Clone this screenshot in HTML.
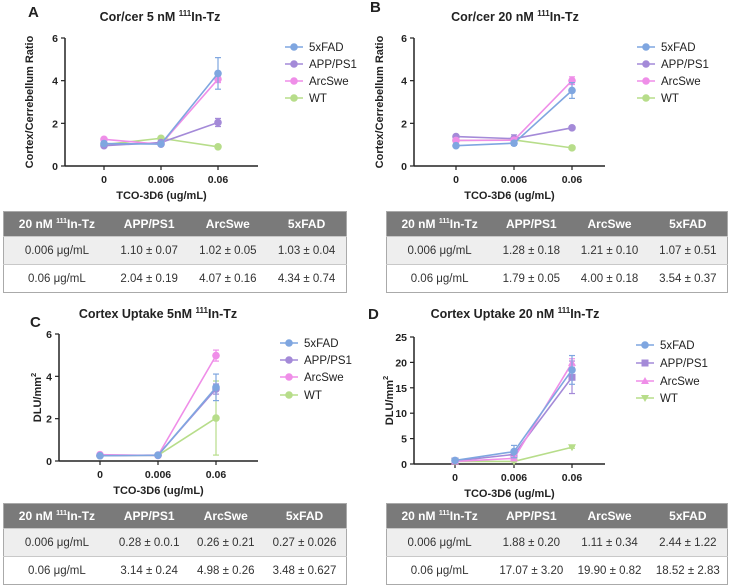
<!DOCTYPE html>
<html><head><meta charset="utf-8">
<style>
body{margin:0;width:730px;height:584px;background:#fff;overflow:hidden;position:relative;font-family:"Liberation Sans",sans-serif}
svg{position:absolute;left:0;top:0}
table{position:absolute;border-collapse:collapse;font-family:"Liberation Sans",sans-serif;font-size:11.5px;color:#333;border:1.5px solid #aaa}
table th{background:#7a7a7a;color:#fff;font-weight:bold;font-size:12px;height:24px;padding:0;text-align:center}
table td{text-align:center;padding:0;height:27px;border-top:1.5px solid #c8c8c8}
table tr.r1 td{background:#eeeeee}
</style></head><body>
<svg id="chart" width="730" height="584"></svg>

<table style="left:3px;top:211px;width:344px">
<tr><th style="width:31%">20 nM <sup style="font-size:7px">111</sup>In-Tz</th><th>APP/PS1</th><th>ArcSwe</th><th>5xFAD</th></tr>
<tr class="r1"><td>0.006 μg/mL</td><td>1.10 ± 0.07</td><td>1.02 ± 0.05</td><td>1.03 ± 0.04</td></tr>
<tr><td>0.06 μg/mL</td><td>2.04 ± 0.19</td><td>4.07 ± 0.16</td><td>4.34 ± 0.74</td></tr>
</table>
<table style="left:386px;top:211px;width:342px">
<tr><th style="width:31%">20 nM <sup style="font-size:7px">111</sup>In-Tz</th><th>APP/PS1</th><th>ArcSwe</th><th>5xFAD</th></tr>
<tr class="r1"><td>0.006 μg/mL</td><td>1.28 ± 0.18</td><td>1.21 ± 0.10</td><td>1.07 ± 0.51</td></tr>
<tr><td>0.06 μg/mL</td><td>1.79 ± 0.05</td><td>4.00 ± 0.18</td><td>3.54 ± 0.37</td></tr>
</table>
<table style="left:3px;top:503px;width:344px">
<tr><th style="width:31%">20 nM <sup style="font-size:7px">111</sup>In-Tz</th><th>APP/PS1</th><th>ArcSwe</th><th>5xFAD</th></tr>
<tr class="r1"><td>0.006 μg/mL</td><td>0.28 ± 0.0.1</td><td>0.26 ± 0.21</td><td>0.27 ± 0.026</td></tr>
<tr><td>0.06 μg/mL</td><td>3.14 ± 0.24</td><td>4.98 ± 0.26</td><td>3.48 ± 0.627</td></tr>
</table>
<table style="left:386px;top:503px;width:342px">
<tr><th style="width:31%">20 nM <sup style="font-size:7px">111</sup>In-Tz</th><th>APP/PS1</th><th>ArcSwe</th><th>5xFAD</th></tr>
<tr class="r1"><td>0.006 μg/mL</td><td>1.88 ± 0.20</td><td>1.11 ± 0.34</td><td>2.44 ± 1.22</td></tr>
<tr><td>0.06 μg/mL</td><td>17.07 ± 3.20</td><td>19.90 ± 0.82</td><td>18.52 ± 2.83</td></tr>
</table>

<script>
const categories = ["0", "0.006", "0.06"];
const seriesNames = ["5xFAD", "APP/PS1", "ArcSwe", "WT"];
const seriesColors = ["#7fa6e0", "#a48ad8", "#ef8ee8", "#b7dd8a"];
// Panel A
const aFAD = [1.05, 1.03, 4.34], aFADerr = [0.1, 0.05, 0.74];
const aAPP = [0.95, 1.10, 2.04], aAPPerr = [0.05, 0.07, 0.19];
const aARC = [1.25, 1.02, 4.07], aARCerr = [0.05, 0.05, 0.16];
const aWT  = [1.00, 1.30, 0.90], aWTerr  = [0.05, 0.05, 0.05];
// Panel B
const bFAD = [0.95, 1.07, 3.54], bFADerr = [0.05, 0.1, 0.37];
const bAPP = [1.38, 1.28, 1.79], bAPPerr = [0.05, 0.18, 0.05];
const bARC = [1.20, 1.21, 4.00], bARCerr = [0.05, 0.10, 0.18];
const bWT  = [1.20, 1.22, 0.85], bWTerr  = [0.05, 0.05, 0.05];
// Panel C
const cFAD = [0.25, 0.27, 3.48], cFADerr = [0.03, 0.03, 0.627];
const cAPP = [0.25, 0.28, 3.40], cAPPerr = [0.03, 0.03, 0.24];
const cARC = [0.30, 0.26, 4.98], cARCerr = [0.03, 0.03, 0.26];
const cWT  = [0.25, 0.27, 2.03], cWTerr  = [0.03, 0.03, 1.75];
// Panel D
const dFAD = [0.7, 2.44, 18.52], dFADerr = [0.2, 1.22, 2.83];
const dAPP = [0.6, 1.88, 17.07], dAPPerr = [0.2, 0.20, 3.20];
const dARC = [0.5, 1.11, 19.90], dARCerr = [0.2, 0.34, 0.82];
const dWT  = [0.5, 0.50, 3.30], dWTerr  = [0.1, 0.1, 0.2];
const ticksRatio = [0, 2, 4, 6];
const ticksD = [0, 5, 10, 15, 20, 25];

const svg = document.getElementById('chart');
const NS = 'http://www.w3.org/2000/svg';
function mk(tag, attrs, parent) {
  const e = document.createElementNS(NS, tag);
  for (const k in attrs) e.setAttribute(k, attrs[k]);
  (parent || svg).appendChild(e);
  return e;
}
function txt(x, y, s, size, anchor, parent, weight) {
  const t = mk('text', {x: x, y: y, 'font-size': size, 'text-anchor': anchor || 'middle', 'font-weight': weight || 'bold', fill: '#222', 'font-family': 'Liberation Sans, sans-serif'}, parent);
  t.textContent = s;
  return t;
}
function panel(p) {
  const g = mk('g', {});
  
  
  const ymax = p.ticks[p.ticks.length - 1];
  const ys = v => p.y0 - (v / ymax) * (p.y0 - p.yTop);
  const xs = i => p.cx[i];
  const L = txt(p.letterX, p.letterY, p.id.toUpperCase(), 15, 'start', g);
  
  
  const T = txt(p.titleX, p.titleY, '', 12.5, 'middle', g);
  
  
  T.textContent = p.title + ' ';
  const sup = mk('tspan', {'font-size': 8, dy: -5}, T); sup.textContent = '111';
  const rest = mk('tspan', {dy: 5}, T); rest.textContent = 'In-Tz';
  mk('line', {x1: p.ax, y1: p.yTop, x2: p.ax, y2: p.y0, stroke: '#222', 'stroke-width': 1.5}, g);
  mk('line', {x1: p.ax, y1: p.y0, x2: p.axEnd, y2: p.y0, stroke: '#222', 'stroke-width': 1.5}, g);
  p.ticks.forEach(t => {
    mk('line', {x1: p.ax - 4, y1: ys(t), x2: p.ax, y2: ys(t), stroke: '#222', 'stroke-width': 1.2}, g);
    const tl = txt(p.ax - 7, ys(t) + 4, String(t), 10.5, 'end', g);
    
    
  });
  categories.forEach((c, i) => {
    mk('line', {x1: xs(i), y1: p.y0, x2: xs(i), y2: p.y0 + 4, stroke: '#222', 'stroke-width': 1.2}, g);
    const tl = txt(xs(i), p.y0 + 17, c, 10.5, 'middle', g);
    
    
  });
  const xt = txt((p.ax + p.axEnd) / 2, p.y0 + 33, 'TCO-3D6 (ug/mL)', 11, 'middle', g);
  
  
  const ymid = (p.y0 + p.yTop) / 2;
  const yt = txt(0, 0, '', 11, 'middle', g);
  yt.setAttribute('transform', 'translate(' + p.ylabX + ',' + ymid + ') rotate(-90)');
  
  
  yt.textContent = p.ylabel;
  if (p.ysup) { const s = mk('tspan', {'font-size': 7.5, dy: -5}, yt); s.textContent = '2'; }
  const order = [3, 1, 2, 0];
  order.forEach(si => {
    const vals = p.series[si], errs = p.errs[si], col = seriesColors[si];
    const sg = mk('g', {}, g);
    
    
    mk('polyline', {points: vals.map((v, i) => xs(i) + ',' + ys(v)).join(' '), fill: 'none', stroke: col, 'stroke-width': 1.6}, sg);
    vals.forEach((v, i) => {
      const e = errs[i];
      mk('line', {x1: xs(i), y1: ys(v - e), x2: xs(i), y2: ys(v + e), stroke: col, 'stroke-width': 1.2}, sg);
      mk('line', {x1: xs(i) - 3, y1: ys(v + e), x2: xs(i) + 3, y2: ys(v + e), stroke: col, 'stroke-width': 1.2}, sg);
      mk('line', {x1: xs(i) - 3, y1: ys(v - e), x2: xs(i) + 3, y2: ys(v - e), stroke: col, 'stroke-width': 1.2}, sg);
      marker(p.markers ? p.markers[si] : 'c', xs(i), ys(v), col, sg);
    });
  });
  seriesNames.forEach((n, si) => {
    const lg = mk('g', {}, g);
    
    
    const y = p.legY[si];
    mk('line', {x1: p.legX, y1: y, x2: p.legX + 18, y2: y, stroke: seriesColors[si], 'stroke-width': 1.6}, lg);
    marker(p.markers ? p.markers[si] : 'c', p.legX + 9, y, seriesColors[si], lg);
    txt(p.legX + 24, y + 4, n, 11.5, 'start', lg, 'normal');
  });
}
function marker(type, x, y, col, parent) {
  if (type === 's') mk('rect', {x: x - 3.5, y: y - 3.5, width: 7, height: 7, fill: col}, parent);
  else if (type === 't') mk('polygon', {points: (x) + ',' + (y - 4) + ' ' + (x - 4) + ',' + (y + 3) + ' ' + (x + 4) + ',' + (y + 3), fill: col}, parent);
  else if (type === 'v') mk('polygon', {points: (x) + ',' + (y + 4) + ' ' + (x - 4) + ',' + (y - 3) + ' ' + (x + 4) + ',' + (y - 3), fill: col}, parent);
  else mk('circle', {cx: x, cy: y, r: 3.8, fill: col}, parent);
}
panel({id: 'a', title: 'Cor/cer 5 nM', titleX: 160, titleY: 21, letterX: 28, letterY: 17,
  ax: 65, axEnd: 258, yTop: 38, y0: 166, cx: [104, 161, 218], ticks: ticksRatio, ylabX: 33,
  ylabel: 'Cortex/Cerrebellum Ratio', legX: 285, legY: [47, 64, 81, 98],
  series: [aFAD, aAPP, aARC, aWT], errs: [aFADerr, aAPPerr, aARCerr, aWTerr]});
panel({id: 'b', title: 'Cor/cer 20 nM', titleX: 515, titleY: 21, letterX: 370, letterY: 12,
  ax: 414, axEnd: 605, yTop: 38, y0: 166, cx: [456, 514, 572], ticks: ticksRatio, ylabX: 383,
  ylabel: 'Cortex/Cerrebellum Ratio', legX: 637, legY: [47, 64, 81, 98],
  series: [bFAD, bAPP, bARC, bWT], errs: [bFADerr, bAPPerr, bARCerr, bWTerr]});
panel({id: 'c', title: 'Cortex Uptake 5nM', titleX: 158, titleY: 318, letterX: 30, letterY: 327,
  ax: 59, axEnd: 258, yTop: 334, y0: 461, cx: [100, 158, 216], ticks: ticksRatio, ylabX: 41,
  ylabel: 'DLU/mm', ysup: true, legX: 280, legY: [343, 360, 377, 395],
  series: [cFAD, cAPP, cARC, cWT], errs: [cFADerr, cAPPerr, cARCerr, cWTerr]});
panel({id: 'd', title: 'Cortex Uptake 20 nM', titleX: 515, titleY: 318, letterX: 368, letterY: 319,
  ax: 414, axEnd: 605, yTop: 337, y0: 464, cx: [455, 514, 572], ticks: ticksD, ylabX: 393,
  ylabel: 'DLU/mm', ysup: true, legX: 636, legY: [345, 363, 381, 398], markers: ['c', 's', 't', 'v'],
  series: [dFAD, dAPP, dARC, dWT], errs: [dFADerr, dAPPerr, dARCerr, dWTerr]});
</script>
</body></html>
